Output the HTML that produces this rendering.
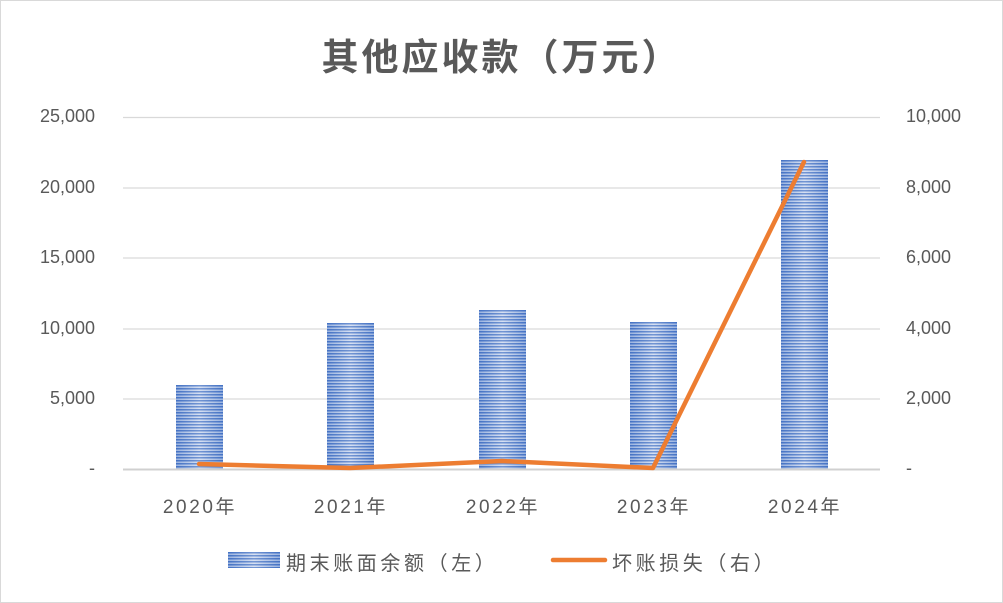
<!DOCTYPE html><html><head><meta charset="utf-8"><style>
body{margin:0;width:1003px;height:603px;background:#fff;font-family:"Liberation Sans","Noto Sans CJK SC",sans-serif;overflow:hidden}
.frame{position:absolute;left:0;top:0;width:1001px;height:601px;border:1px solid #d9d9d9}
.t{position:absolute;color:#595959;font-size:18px}
.x{font-size:19px;letter-spacing:2.6px;text-align:center;width:120px}
.bar{position:absolute;width:47px;background:repeating-linear-gradient(to bottom,#4472c4 0,#4472c4 1.5px,#c9d6ee 1.5px,#c9d6ee 3px)}
.bar:after{content:"";position:absolute;inset:0;background:linear-gradient(to right,rgba(68,114,196,.35),rgba(255,255,255,.25) 50%,rgba(68,114,196,.35))}
</style></head><body><div class="frame"></div>
<div class="t" style="left:0;width:1003px;top:27px;text-align:center;font-size:37px;letter-spacing:3px;font-weight:bold;color:#595959">其他应收款（万元）</div>
<svg width="1003" height="603" style="position:absolute;left:0;top:0">
<g stroke="#d9d9d9" stroke-width="1.3">
<line x1="123" x2="880" y1="117.5" y2="117.5"/><line x1="123" x2="880" y1="188" y2="188"/><line x1="123" x2="880" y1="258" y2="258"/><line x1="123" x2="880" y1="329" y2="329"/><line x1="123" x2="880" y1="399" y2="399"/>
</g>
</svg>
<div class="bar" style="left:176px;top:385px;height:84px"></div>
<div class="bar" style="left:327px;top:323px;height:146px"></div>
<div class="bar" style="left:479px;top:310px;height:159px"></div>
<div class="bar" style="left:630px;top:322px;height:147px"></div>
<div class="bar" style="left:781px;top:160px;height:309px"></div>
<svg width="1003" height="603" style="position:absolute;left:0;top:0">
<line x1="123" x2="880" y1="469.5" y2="469.5" stroke="#d0d0d0" stroke-width="2"/>
<polyline points="199,464 350,468 502,461 653,468 804,162" fill="none" stroke="#ed7d31" stroke-width="4.5" stroke-linejoin="round" stroke-linecap="round"/>
<line x1="553" x2="605" y1="560" y2="560" stroke="#ed7d31" stroke-width="4.5" stroke-linecap="round"/>
</svg>
<div class="t" style="right:908px;top:106px">25,000</div>
<div class="t" style="right:908px;top:177px">20,000</div>
<div class="t" style="right:908px;top:247px">15,000</div>
<div class="t" style="right:908px;top:318px">10,000</div>
<div class="t" style="right:908px;top:388px">5,000</div>
<div class="t" style="right:908px;top:458px">-</div>
<div class="t" style="left:906px;top:106px">10,000</div>
<div class="t" style="left:906px;top:177px">8,000</div>
<div class="t" style="left:906px;top:247px">6,000</div>
<div class="t" style="left:906px;top:318px">4,000</div>
<div class="t" style="left:906px;top:388px">2,000</div>
<div class="t" style="left:906px;top:458px">-</div>
<div class="t x" style="left:140px;top:492px">2020年</div>
<div class="t x" style="left:291px;top:492px">2021年</div>
<div class="t x" style="left:443px;top:492px">2022年</div>
<div class="t x" style="left:594px;top:492px">2023年</div>
<div class="t x" style="left:745px;top:492px">2024年</div>
<div class="bar" style="left:228px;top:552px;width:52px;height:16px"></div>
<div class="t" style="left:286px;top:547px;font-size:20px;letter-spacing:3.6px">期末账面余额（左）</div>
<div class="t" style="left:612px;top:547px;font-size:20px;letter-spacing:3.6px">坏账损失（右）</div>
</body></html>
